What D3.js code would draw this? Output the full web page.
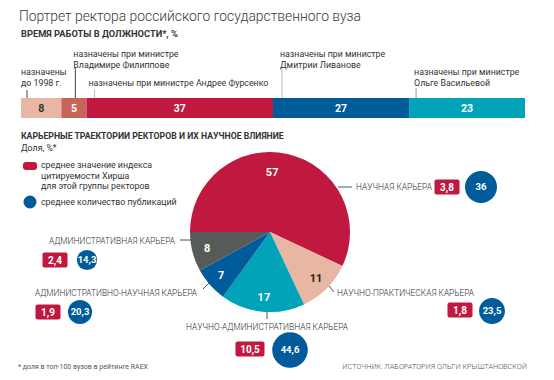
<!DOCTYPE html>
<html>
<head>
<meta charset="utf-8">
<script src="https://cdn.jsdelivr.net/npm/d3@7"></script>
<style>
  body { margin: 0; background: #fff; }
  svg text { font-family: Roboto, "Open Sans", sans-serif; fill: #333; }
</style>
</head>
<body>
<script>
// --- data ---
var periodShares = [8, 5, 37, 27, 23];
var periodLabels = [
    ["назначены", "до 1998 г."],
    ["назначены при министре", "Владимире Филиппове"],
    ["назначены при министре Андрее Фурсенко"],
    ["назначены при министре", "Дмитрии Ливанове"],
    ["назначены при министре", "Ольге Васильевой"]
];
var careers = ["НАУЧНАЯ КАРЬЕРА", "НАУЧНО-ПРАКТИЧЕСКАЯ КАРЬЕРА",
               "НАУЧНО-АДМИНИСТРАТИВНАЯ КАРЬЕРА", "АДМИНИСТРАТИВНО-НАУЧНАЯ КАРЬЕРА",
               "АДМИНИСТРАТИВНАЯ КАРЬЕРА"];
var careerShares = [57, 11, 17, 7, 8];
var hirsch = [3.8, 1.8, 10.5, 1.9, 2.4];
var publications = [36, 23.5, 44.6, 20.3, 14.3];

// --- styles / layout ---
var periodColors = ["#e7b7a4", "#c8655a", "#c0183f", "#005b9b", "#00a3b8"];
var periodTextColors = ["#333", "#fff", "#fff", "#fff", "#fff"];
var careerColors = ["#c0183f", "#e7b7a4", "#00a3b8", "#005b9b", "#565b58"];
var careerTextColors = ["#fff", "#222", "#fff", "#fff", "#fff"];
var red = "#c0183f", blue = "#005b9b";

// tick offset from segment start, tick top, first label baseline, tick colour
var periodLayout = [
    {dx: 6,  top: 90, ty: 75, c: "#444"},
    {dx: 14, top: 68, ty: 57, c: "#444"},
    {dx: 8,  top: 90, ty: 86, c: "#bbb"},
    {dx: 9,  top: 68, ty: 57, c: "#bbb"},
    {dx: 7,  top: 88, ty: 75, c: "#999"}
];
// label position/anchor, leader line, badge (red) and circle (blue) centres
var careerLayout = [
    {lx: 356, ly: 190, anchor: "start",  line: [[338, 187], [352, 187]], rx: 447, ry: 187, cx: 481, cy: 187},
    {lx: 337, ly: 296, anchor: "start",  line: [[329, 286], [334, 292]], rx: 460, ry: 310, cx: 492, cy: 311},
    {lx: 267, ly: 330, anchor: "middle", line: [[267, 312], [267, 319]], rx: 250, ry: 349, cx: 290, cy: 350},
    {lx: 197, ly: 296, anchor: "end",    line: [[203, 289], [209, 283]], rx: 48,  ry: 312, cx: 80,  cy: 312},
    {lx: 175, ly: 244, anchor: "end",    line: [[180, 240], [191, 240]], rx: 55,  ry: 260, cx: 87,  cy: 260}
];

var fmt = function(v) { return String(v).replace(".", ","); };
var small = "8.8px";

var svg = d3.select("body").append("svg")
    .attr("width", 554)
    .attr("height", 380);

// titles
svg.append("text").attr("x", 19).attr("y", 21)
    .attr("textLength", 342).attr("lengthAdjust", "spacingAndGlyphs")
    .style("font-size", "15.5px").style("font-weight", 300).style("fill", "#3a3a3a")
    .text("Портрет ректора российского государственного вуза");
svg.append("text").attr("x", 21).attr("y", 37)
    .style("font-size", "9.3px").style("font-weight", 700)
    .text("ВРЕМЯ РАБОТЫ В ДОЛЖНОСТИ*, %");

// --- stacked bar ---
var xBar = d3.scaleLinear().domain([0, 100]).range([21, 525]);
var starts = [0].concat(Array.from(d3.cumsum(periodShares))).slice(0, periodShares.length);
var barTop = 98, barH = 20;

var bar = svg.append("g").attr("id", "barChart");
bar.selectAll(".seg")
    .data(periodShares)
    .enter().append("rect")
    .attr("class", "seg")
    .attr("x", function(d, i) { return xBar(starts[i]); })
    .attr("y", barTop)
    .attr("width", function(d, i) { return xBar(starts[i] + d) - xBar(starts[i]); })
    .attr("height", barH)
    .attr("fill", function(d, i) { return periodColors[i]; });

bar.selectAll(".segval")
    .data(periodShares)
    .enter().append("text")
    .attr("class", "segval")
    .attr("x", function(d, i) { return xBar(starts[i] + d / 2); })
    .attr("y", barTop + 14)
    .attr("text-anchor", "middle")
    .style("font-size", "10.5px").style("font-weight", 700)
    .style("fill", function(d, i) { return periodTextColors[i]; })
    .text(function(d) { return d; });

periodLabels.forEach(function(lines, i) {
    var L = periodLayout[i];
    var x0 = xBar(starts[i]);
    bar.append("line")
        .attr("x1", x0 + L.dx).attr("x2", x0 + L.dx)
        .attr("y1", L.top).attr("y2", barTop)
        .attr("stroke", L.c).attr("stroke-width", 1);
    var tx = i == 0 ? x0 : (i == 2 ? x0 + 2 : x0 + L.dx - 2);
    var t = bar.append("text")
        .attr("x", tx)
        .attr("y", L.ty)
        .style("font-size", small);
    lines.forEach(function(s, j) {
        t.append("tspan").attr("x", tx).attr("dy", j ? 11 : 0).text(s);
    });
});

// --- pie section ---
svg.append("text").attr("x", 21).attr("y", 139)
    .style("font-size", "8.7px").style("font-weight", 700)
    .text("КАРЬЕРНЫЕ ТРАЕКТОРИИ РЕКТОРОВ И ИХ НАУЧНОЕ ВЛИЯНИЕ");
svg.append("text").attr("x", 21).attr("y", 151)
    .style("font-size", small)
    .text("Доля, %*");

// legend
svg.append("rect").attr("x", 23).attr("y", 162).attr("width", 14).attr("height", 8)
    .attr("rx", 3).attr("fill", red);
var lt = svg.append("text").attr("x", 41).attr("y", 168).style("font-size", small);
["среднее значение индекса", "цитируемости Хирша", "для этой группы ректоров"].forEach(function(s, j) {
    lt.append("tspan").attr("x", 41).attr("dy", j ? 10.5 : 0).text(s);
});
svg.append("circle").attr("cx", 30).attr("cy", 202).attr("r", 6.5).attr("fill", blue);
svg.append("text").attr("x", 41).attr("y", 205).style("font-size", small)
    .text("среднее количество публикаций");

var cx = 270, cy = 232, R = 80;
var pie = d3.pie().sort(null)
    .startAngle(-Math.PI / 2).endAngle(1.5 * Math.PI)
    .value(function(d) { return d; });
var arc = d3.arc().innerRadius(0).outerRadius(R);
var labelArc = d3.arc().innerRadius(65).outerRadius(65);
var arcs = pie(careerShares);

var pg = svg.append("g").attr("id", "pieChart")
    .attr("transform", "translate(" + cx + "," + cy + ")");
pg.selectAll(".slice")
    .data(arcs)
    .enter().append("path")
    .attr("class", "slice")
    .attr("d", arc)
    .attr("fill", function(d, i) { return careerColors[i]; });
pg.selectAll(".pval")
    .data(arcs)
    .enter().append("text")
    .attr("class", "pval")
    .attr("transform", function(d, i) {
        var c = labelArc.centroid(d);
        if (i == 0) c = [c[0] - 12, c[1] + 4];
        return "translate(" + c + ")";
    })
    .attr("text-anchor", "middle")
    .attr("dy", "0.35em")
    .style("font-size", "11px").style("font-weight", 700)
    .style("fill", function(d, i) { return careerTextColors[i]; })
    .text(function(d) { return d.data; });

// callouts
var rScale = d3.scaleSqrt().domain([0, 44.6]).range([0, 17.8]);
var cg = svg.append("g").attr("id", "callouts");
careers.forEach(function(name, i) {
    var L = careerLayout[i];
    cg.append("line")
        .attr("x1", L.line[0][0]).attr("y1", L.line[0][1])
        .attr("x2", L.line[1][0]).attr("y2", L.line[1][1])
        .attr("stroke", "#555").attr("stroke-width", 1);
    cg.append("text")
        .attr("x", L.lx).attr("y", L.ly)
        .attr("text-anchor", L.anchor)
        .style("font-size", "8.4px").style("font-weight", 300)
        .text(name);

    var lab = fmt(hirsch[i]);
    var w = lab.length > 3 ? 29 : 25;
    cg.append("rect")
        .attr("x", L.rx - w / 2).attr("y", L.ry - 7.5)
        .attr("width", w).attr("height", 15)
        .attr("rx", 2).attr("fill", red);
    cg.append("text")
        .attr("x", L.rx).attr("y", L.ry).attr("dy", "0.36em")
        .attr("text-anchor", "middle")
        .style("font-size", "10px").style("font-weight", 700).style("fill", "#fff")
        .text(lab);

    cg.append("circle")
        .attr("cx", L.cx).attr("cy", L.cy)
        .attr("r", rScale(publications[i]))
        .attr("fill", blue);
    cg.append("text")
        .attr("x", L.cx).attr("y", L.cy).attr("dy", "0.36em")
        .attr("text-anchor", "middle")
        .style("font-size", "9.5px").style("font-weight", 700).style("fill", "#fff")
        .text(fmt(publications[i]));
});

// footer
svg.append("text").attr("x", 18).attr("y", 369)
    .style("font-size", "7px").style("fill", "#555")
    .text("* доля в топ-100 вузов в рейтинге RAEX");
svg.append("text").attr("x", 527).attr("y", 369)
    .attr("text-anchor", "end")
    .style("font-size", "7.3px").style("font-weight", 300).style("fill", "#555")
    .text("ИСТОЧНИК: ЛАБОРАТОРИЯ ОЛЬГИ КРЫШТАНОВСКОЙ");
</script>
</body>
</html>
